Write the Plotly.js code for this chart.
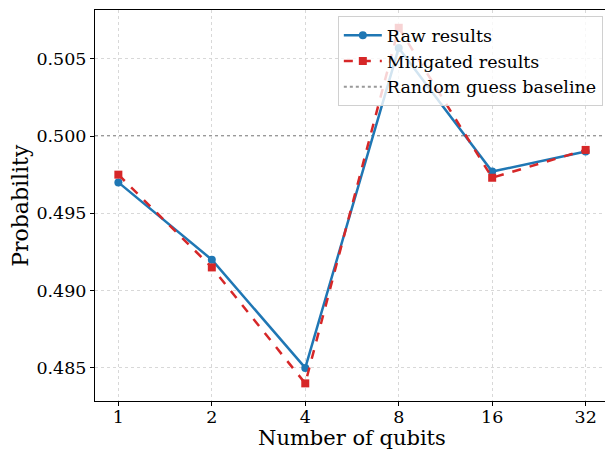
<!DOCTYPE html>
<html>
<head>
<meta charset="utf-8">
<script src="https://cdn.plot.ly/plotly-3.0.1.min.js"></script>
<style>html,body{margin:0;padding:0;overflow:hidden;background:#fff;}#chart{width:610px;height:452px;}</style>
</head>
<body>
<div id="chart"></div>
<script>
const qubits = ["1", "2", "4", "8", "16", "32"];
const rawResults = [0.4970, 0.4920, 0.4850, 0.5057, 0.4977, 0.4990];
const mitigatedResults = [0.4975, 0.4915, 0.4840, 0.5070, 0.4973, 0.4991];
const baseline = 0.5;
const xTitle = "Number of qubits";
const yTitle = "Probability";

const font = "DejaVu Serif, serif";
const traces = [
  {x: qubits, y: rawResults, name: "Raw results", type: "scatter", mode: "lines+markers",
   line: {color: "#1f77b4", width: 2.5}, marker: {symbol: "circle", size: 8, color: "#1f77b4"}},
  {x: qubits, y: mitigatedResults, name: "Mitigated results", type: "scatter", mode: "lines+markers",
   line: {color: "#d62728", width: 2.5, dash: "dash"}, marker: {symbol: "square", size: 8, color: "#d62728"}},
  {x: [qubits[0]], y: [null], name: "Random guess baseline", type: "scatter", mode: "lines",
   line: {color: "rgba(128,128,128,0.8)", width: 2, dash: "dot"}}
];
const grid = {showgrid: true, gridcolor: "#d8d8d8", griddash: "3px,3px", gridwidth: 1, zeroline: false};
const layout = {
  width: 610, height: 452,
  margin: {l: 95, r: 1, t: 10, b: 51},
  paper_bgcolor: "#fff", plot_bgcolor: "#fff",
  font: {family: font, size: 17.5, color: "#000"},
  showlegend: true,
  legend: {x: 0.988, y: 0.984, xanchor: "right", yanchor: "top", bgcolor: "rgba(255,255,255,0.8)",
           bordercolor: "#d0d0d0", borderwidth: 1, font: {family: font, size: 17.5}, itemwidth: 38},
  xaxis: Object.assign({type: "category", categoryorder: "array", categoryarray: qubits, range: [-0.25, 5.25],
          showline: true, linecolor: "#000", linewidth: 1, mirror: true, ticklabelstandoff: -4,
          ticks: "outside", ticklen: 4, tickcolor: "#000"}, grid),
  yaxis: Object.assign({range: [0.48286, 0.50815], tickvals: [0.485, 0.490, 0.495, 0.500, 0.505], tickformat: ".3f",
          showline: true, linecolor: "#000", linewidth: 1, mirror: true,
          ticks: "outside", ticklen: 4, tickcolor: "#000"}, grid),
  annotations: [
    {text: xTitle, xref: "paper", yref: "paper", x: 0.5, y: -0.0946, xanchor: "center", yanchor: "middle",
     showarrow: false, font: {family: font, size: 21}},
    {text: yTitle, xref: "paper", yref: "paper", x: -0.117, y: 0.5, xanchor: "right", yanchor: "middle",
     textangle: -90, showarrow: false, font: {family: font, size: 22}}
  ],
  shapes: [{type: "line", xref: "paper", x0: 0, x1: 1, yref: "y", y0: baseline, y1: baseline,
            line: {color: "rgba(128,128,128,0.8)", width: 2, dash: "dot"}, layer: "below"}]
};
Plotly.newPlot("chart", traces, layout, {displayModeBar: false, staticPlot: true});
</script>
</body>
</html>
